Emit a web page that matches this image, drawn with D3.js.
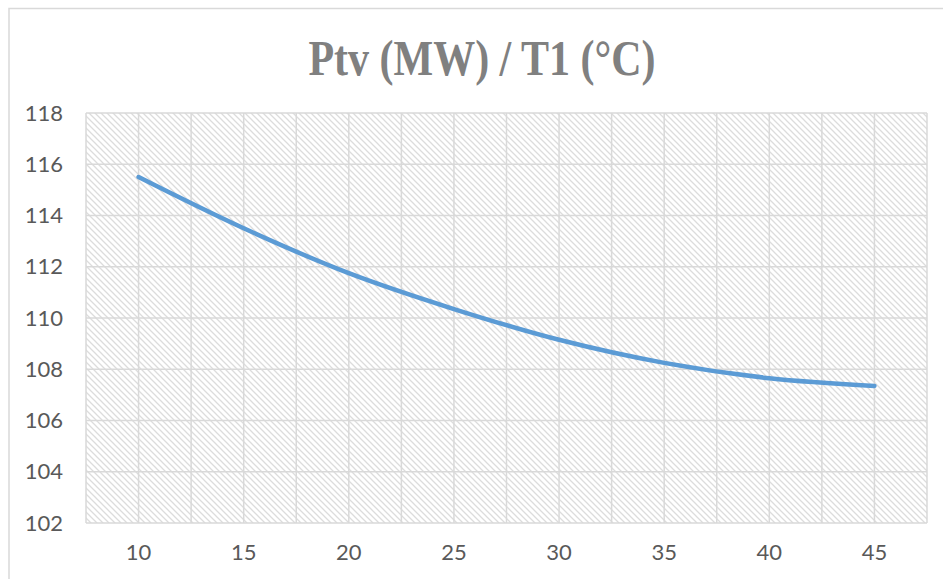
<!DOCTYPE html>
<html>
<head>
<meta charset="utf-8">
<script src="https://cdn.jsdelivr.net/npm/d3@7"></script>
<style>
  html, body { margin: 0; padding: 0; background: #fff; }
  svg { display: block; }
</style>
</head>
<body>
<svg id="chart" width="943" height="579"></svg>
<script>
// Temperature T1 (°C) categories and turbine power Ptv (MW)
const temperatures = [10, 15, 20, 25, 30, 35, 40, 45];
const power = [115.5, 113.5, 111.75, 110.35, 109.15, 108.25, 107.65, 107.35];
const yTicks = [102, 104, 106, 108, 110, 112, 114, 116, 118];
const titleText = "Ptv (MW) / T1 (°C)";

const svg = d3.select("#chart");
const plot = { left: 86, right: 927, top: 113, bottom: 523 };

// Chart area frame
svg.append("rect")
  .attr("x", 9).attr("y", 8.5)
  .attr("width", 960).attr("height", 600)
  .attr("fill", "#fff")
  .attr("stroke", "#d9d9d9").attr("stroke-width", 1.5);

// Diagonal hatch fill for the plot area
const defs = svg.append("defs");
const pat = defs.append("pattern")
  .attr("id", "hatch")
  .attr("patternUnits", "userSpaceOnUse")
  .attr("width", 6).attr("height", 6);
pat.append("path")
  .attr("d", "M0,0 L6,6 M-1,5 L1,7 M5,-1 L7,1")
  .attr("stroke", "#dcdcdc").attr("stroke-width", 1.3)
  .attr("fill", "none");

const x = d3.scaleBand()
  .domain(temperatures)
  .range([plot.left, plot.right])
  .padding(0);
const y = d3.scaleLinear()
  .domain([102, 118])
  .range([plot.bottom, plot.top]);

svg.append("rect")
  .attr("x", plot.left).attr("y", plot.top)
  .attr("width", plot.right - plot.left)
  .attr("height", plot.bottom - plot.top)
  .attr("fill", "url(#hatch)");

// Gridlines: horizontal at every tick, vertical at band edges and centres
const grid = svg.append("g").attr("stroke", "#d9d9d9").attr("stroke-width", 1.5);
grid.selectAll("line.h").data(yTicks).join("line")
  .attr("class", "h")
  .attr("x1", plot.left).attr("x2", plot.right)
  .attr("y1", d => y(d)).attr("y2", d => y(d));
const vPos = [];
temperatures.forEach(t => {
  vPos.push(x(t));
  vPos.push(x(t) + x.bandwidth() / 2);
});
vPos.push(plot.right);
grid.selectAll("line.v").data(vPos).join("line")
  .attr("class", "v")
  .attr("x1", d => d).attr("x2", d => d)
  .attr("y1", plot.top).attr("y2", plot.bottom);

const labelFont = "Lato, 'Open Sans', sans-serif";

// Y axis labels
const yAxis = svg.append("g")
  .attr("transform", `translate(${plot.left},0)`)
  .call(d3.axisLeft(y).tickValues(yTicks).tickSize(0).tickPadding(23));
yAxis.select(".domain").remove();
yAxis.selectAll("text")
  .attr("font-family", labelFont)
  .attr("font-size", 22)
  .attr("fill", "#595959");

// X axis labels
const xAxis = svg.append("g")
  .attr("transform", `translate(0,${plot.bottom})`)
  .call(d3.axisBottom(x).tickSize(0).tickPadding(21));
xAxis.select(".domain").remove();
xAxis.selectAll("text")
  .attr("font-family", labelFont)
  .attr("font-size", 22)
  .attr("fill", "#595959");

// Power curve
const line = d3.line()
  .x((d, i) => x(temperatures[i]) + x.bandwidth() / 2)
  .y(d => y(d))
  .curve(d3.curveCatmullRom.alpha(0.5));
svg.append("path")
  .datum(power)
  .attr("d", line)
  .attr("fill", "none")
  .attr("stroke", "#5b9bd5")
  .attr("stroke-width", 4.5)
  .attr("stroke-linecap", "round")
  .attr("stroke-linejoin", "round");

// Title
svg.append("text")
  .attr("transform", "translate(482,75) scale(1,1.2)")
  .attr("text-anchor", "middle")
  .attr("font-family", "'Liberation Serif', 'Times New Roman', serif")
  .attr("font-weight", "bold")
  .attr("font-size", 42)
  .attr("fill", "#808080")
  .text(titleText);
</script>
</body>
</html>
